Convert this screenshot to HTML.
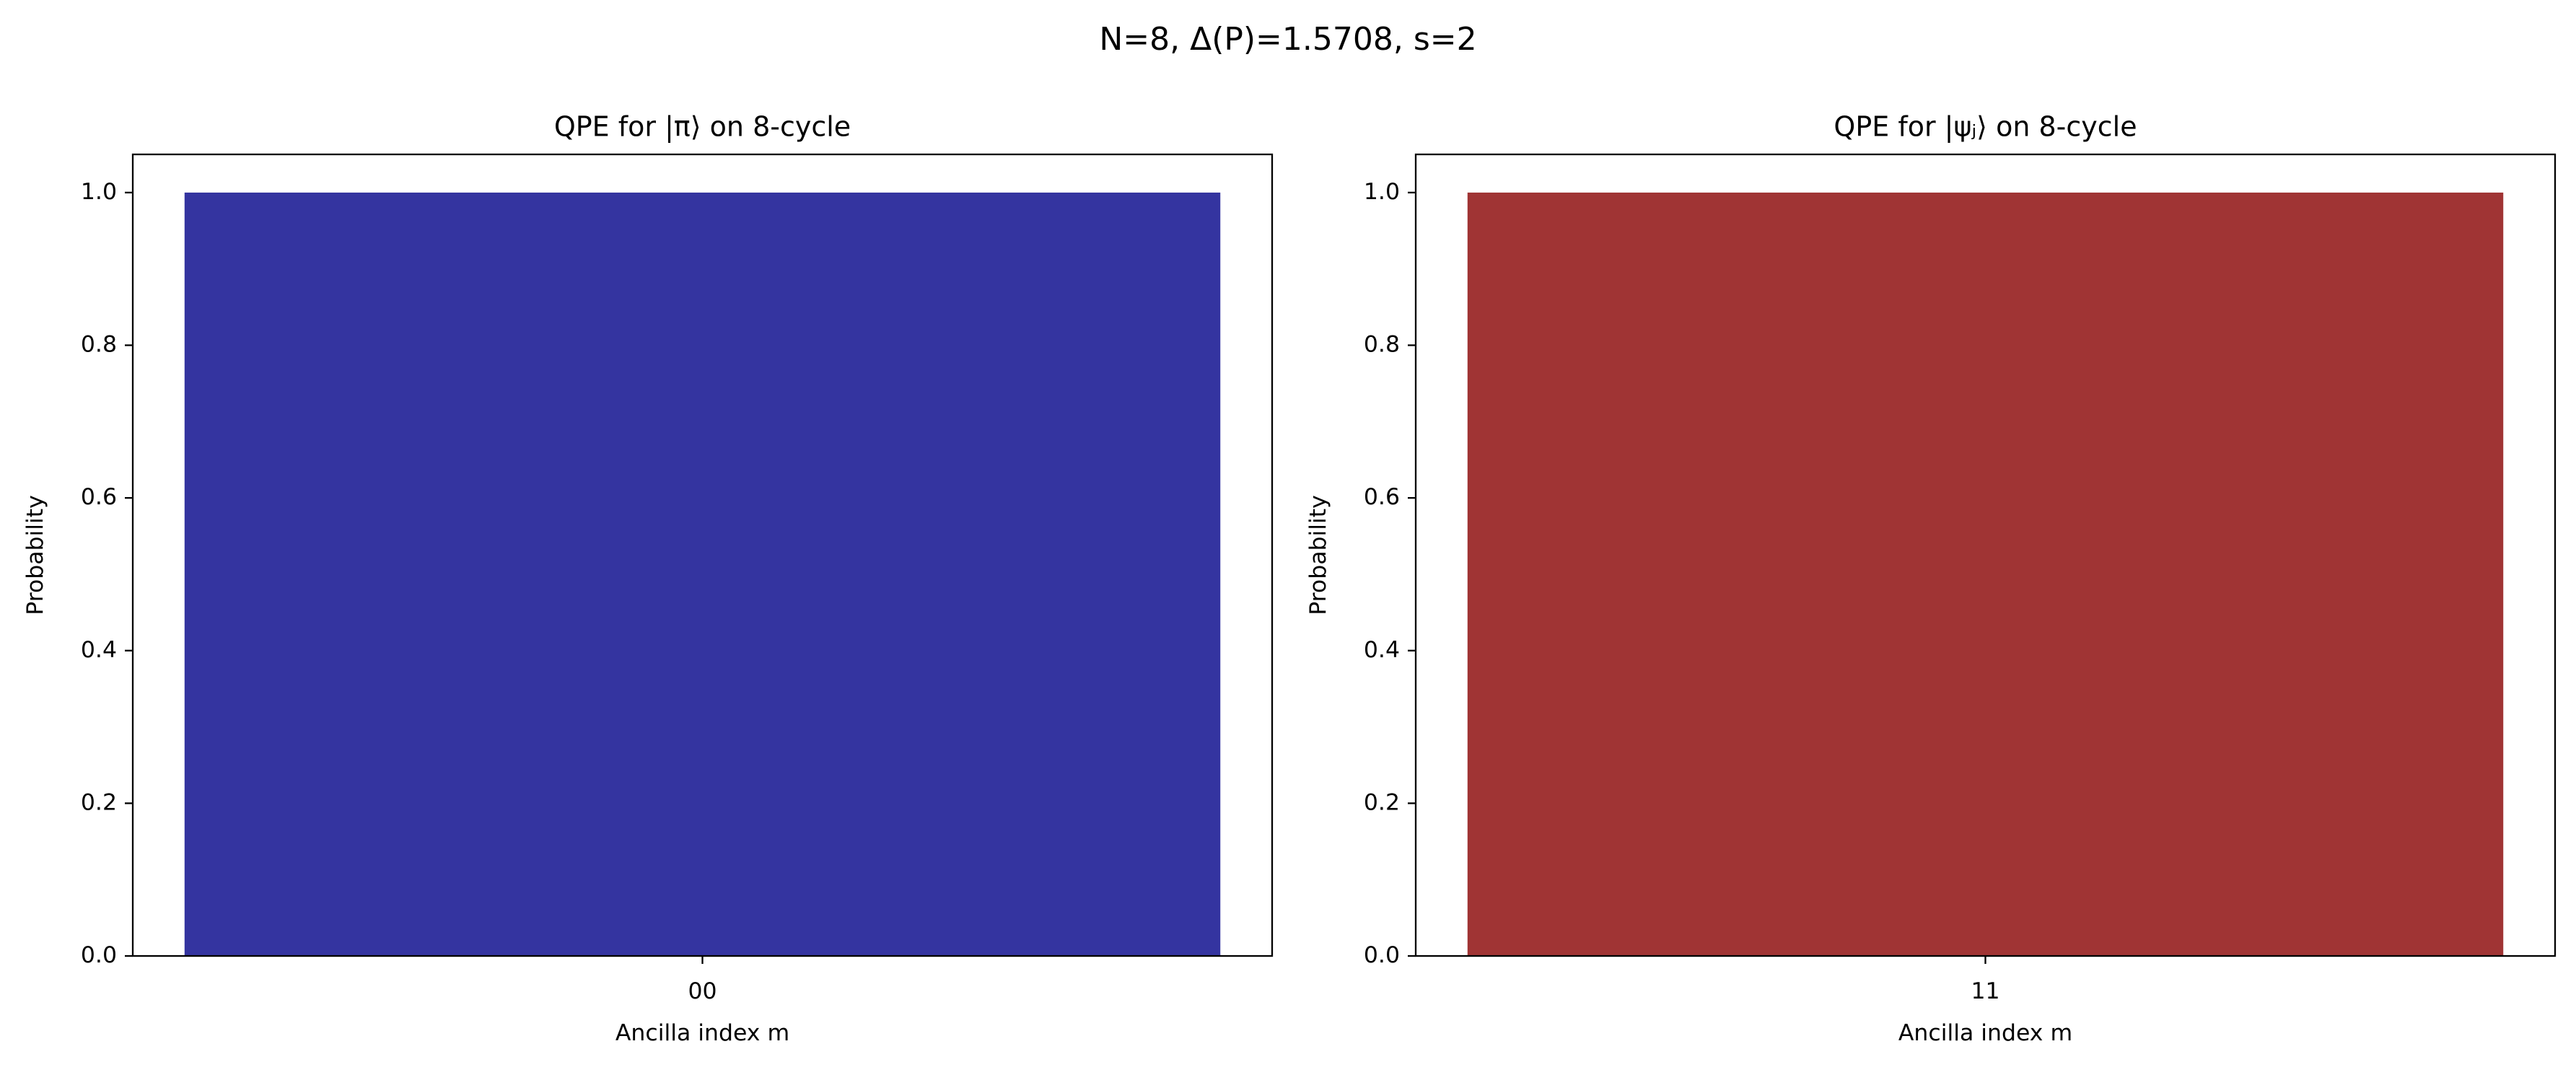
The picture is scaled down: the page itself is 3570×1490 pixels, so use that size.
<!DOCTYPE html>
<html><head><meta charset="utf-8">
<style>
body{margin:0;background:#fff;}
svg text{font-family:"DejaVu Sans","Liberation Sans",sans-serif;fill:#000;}
</style></head>
<body>
<svg id="chart" width="3570" height="1485" xmlns="http://www.w3.org/2000/svg">
<rect width="3570" height="1485" fill="#fff"/>
<text x="1785" y="57" font-size="44" text-anchor="middle" dominant-baseline="middle">N=8, Δ(P)=1.5708, s=2</text>
<g id="p0"></g>
<g id="p1"></g>
</svg>
<script>
const leftCategories = ["00"];
const leftValues = [1.0];
const rightCategories = ["11"];
const rightValues = [1.0];
const yTicks = [0.0, 0.2, 0.4, 0.6, 0.8, 1.0];
const yTickLabels = ["0.0","0.2","0.4","0.6","0.8","1.0"];
const NS = "http://www.w3.org/2000/svg";
function mk(parent, tag, attrs, text){
  const e = document.createElementNS(NS, tag);
  for (const k in attrs) e.setAttribute(k, attrs[k]);
  if (text !== undefined) e.textContent = text;
  parent.appendChild(e); return e;
}
function panel(g, x0, title, cats, vals, color, prefix){
  const x1 = x0 + 1579, yTop = 214, yBot = 1325;
  const n = cats.length;
  const xmin = -0.44, xmax = (n - 1) + 0.44;
  const xs = v => x0 + (v - xmin) / (xmax - xmin) * (x1 - x0);
  const ys = v => yBot - v / 1.05 * (yBot - yTop);
  const t = mk(g, "text", {x:(x0+x1)/2, y:178, "font-size":38, "text-anchor":"middle", "dominant-baseline":"middle"}, title);
  
  
  cats.forEach((c, i) => {
    const b = mk(g, "rect", {x:xs(i-0.4), y:ys(vals[i]), width:xs(i+0.4)-xs(i-0.4), height:ys(0)-ys(vals[i]), fill:color});
    
    
    const tk = mk(g, "line", {x1:xs(i), x2:xs(i), y1:yBot, y2:yBot+11, stroke:"#000", "stroke-width":2.3});
    
    
    const tl = mk(g, "text", {x:xs(i), y:yBot+50, "font-size":31.5, "text-anchor":"middle", "dominant-baseline":"middle"}, c);
    
    
  });
  yTicks.forEach((v, i) => {
    const tk = mk(g, "line", {x1:x0-11, x2:x0, y1:ys(v), y2:ys(v), stroke:"#000", "stroke-width":2.3});
    
    
    const tl = mk(g, "text", {x:x0-22, y:ys(v), "font-size":31.5, "text-anchor":"end", "dominant-baseline":"middle"}, yTickLabels[i]);
    
    
  });
  const fr = mk(g, "rect", {x:x0, y:yTop, width:x1-x0, height:yBot-yTop, fill:"none", stroke:"#000", "stroke-width":2.3});
  
  
  const xl = mk(g, "text", {x:(x0+x1)/2, y:1433, "font-size":31.5, "text-anchor":"middle", "dominant-baseline":"middle"}, "Ancilla index m");
  
  
  const ylx = x0 - 134, yly = (yTop + yBot) / 2;
  const yl = mk(g, "text", {x:ylx, y:yly, "font-size":31.5, "text-anchor":"middle", "dominant-baseline":"middle", transform:`rotate(-90 ${ylx} ${yly})`}, "Probability");
  
  
}
const g0 = document.getElementById("p0");


const g1 = document.getElementById("p1");


panel(g0, 184, "QPE for |π⟩ on 8-cycle", leftCategories, leftValues, "#3434a0", "left");
panel(g1, 1962, "QPE for |ψⱼ⟩ on 8-cycle", rightCategories, rightValues, "#a03434", "right");
</script>
</body></html>
